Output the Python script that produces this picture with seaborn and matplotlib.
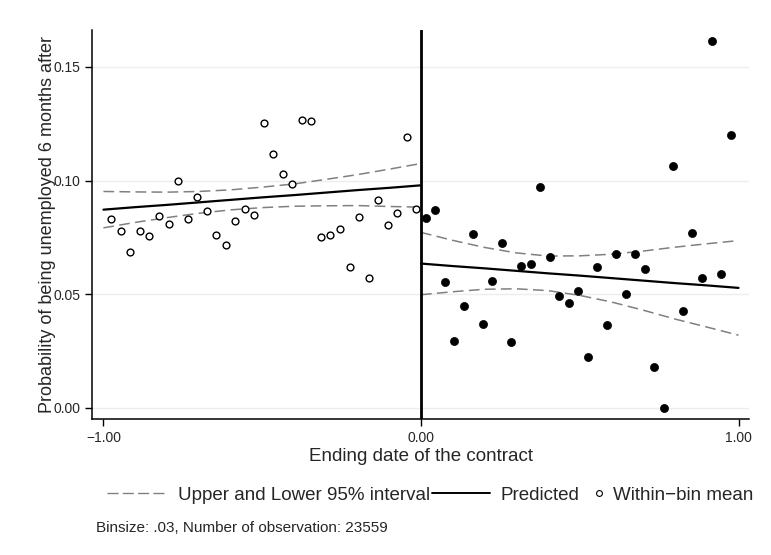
import numpy as np
import pandas as pd
import matplotlib
matplotlib.use("Agg")
import matplotlib.pyplot as plt
import seaborn as sns
from matplotlib.lines import Line2D

# ---- data ----
left_x = [-0.975, -0.945, -0.915, -0.885, -0.855, -0.825, -0.795, -0.765, -0.735, -0.705, -0.675,
          -0.645, -0.615, -0.585, -0.555, -0.525, -0.495, -0.465, -0.435, -0.405, -0.375, -0.345,
          -0.315, -0.285, -0.255, -0.225, -0.195, -0.165, -0.135, -0.105, -0.075, -0.045, -0.015]
left_y = [0.0829, 0.0779, 0.0685, 0.0779, 0.0756, 0.0845, 0.0807, 0.0998, 0.0832, 0.0929, 0.0868,
          0.0759, 0.0718, 0.0822, 0.0873, 0.0850, 0.1253, 0.1116, 0.1028, 0.0987, 0.1267, 0.1263,
          0.0753, 0.0759, 0.0787, 0.0621, 0.0839, 0.0573, 0.0916, 0.0804, 0.0859, 0.1190, 0.0875]

right_x = [0.015, 0.045, 0.075, 0.105, 0.135, 0.165, 0.195, 0.225, 0.255, 0.285, 0.315,
           0.345, 0.375, 0.405, 0.435, 0.465, 0.495, 0.525, 0.555, 0.585, 0.615, 0.645,
           0.675, 0.705, 0.735, 0.765, 0.795, 0.825, 0.855, 0.885, 0.915, 0.945, 0.975]
right_y = [0.0837, 0.0869, 0.0553, 0.0296, 0.0447, 0.0763, 0.0371, 0.0560, 0.0726, 0.0291, 0.0623,
           0.0632, 0.0970, 0.0666, 0.0494, 0.0462, 0.0513, 0.0225, 0.0619, 0.0365, 0.0675, 0.0500,
           0.0676, 0.0610, 0.0178, 0.0000, 0.1065, 0.0426, 0.0770, 0.0572, 0.1614, 0.0588, 0.1201]

fit_left_x = [-1.0, -0.9, -0.8, -0.7, -0.6, -0.5, -0.4, -0.3, -0.2, -0.1, 0.0]
pred_left = [0.0872, 0.0883, 0.0893, 0.0904, 0.0915, 0.0926, 0.0936, 0.0947, 0.0958, 0.0968, 0.0979]
upper_left = [0.0952, 0.0950, 0.0949, 0.0952, 0.0959, 0.0971, 0.0985, 0.1005, 0.1026, 0.1050, 0.1075]
lower_left = [0.0792, 0.0816, 0.0837, 0.0856, 0.0871, 0.0881, 0.0887, 0.0889, 0.0890, 0.0886, 0.0883]

fit_right_x = [0.0, 0.1, 0.2, 0.3, 0.4, 0.5, 0.6, 0.7, 0.8, 0.9, 1.0]
pred_right = [0.0635, 0.0624, 0.0614, 0.0603, 0.0592, 0.0582, 0.0571, 0.0560, 0.0549, 0.0539, 0.0528]
upper_right = [0.0772, 0.0737, 0.0706, 0.0682, 0.0668, 0.0669, 0.0676, 0.0690, 0.0707, 0.0722, 0.0736]
lower_right = [0.0498, 0.0511, 0.0522, 0.0524, 0.0516, 0.0495, 0.0466, 0.0430, 0.0391, 0.0356, 0.0320]

x_ticks = [-1.0, 0.0, 1.0]
x_tick_labels = ["\u22121.00", "0.00", "1.00"]
y_ticks = [0.0, 0.05, 0.10, 0.15]
y_tick_labels = ["0.00", "0.05", "0.10", "0.15"]

legend_labels = ["Upper and Lower 95% interval", "Predicted", "Within\u2212bin mean"]
note_text = "Binsize: .03, Number of observation: 23559"

# ---- styling ----
sns.set_theme(style="white")
plt.rcParams['font.family'] = ['Liberation Sans', 'DejaVu Sans']

W, H = 771, 555
fig = plt.figure(figsize=(W / 100, H / 100), dpi=100)
ax = fig.add_axes([92.3 / W, 1 - 419 / H, (749.3 - 92.3) / W, (419 - 30) / H])

GRID = "#e6eff1"
for yv in y_ticks:
    ax.axhline(yv, color=GRID, lw=1.0, zorder=0)

DASH_COLOR = "#808080"
dash_kw = dict(color=DASH_COLOR, lw=1.1, dashes=(7, 3.5), zorder=2)
df_l = pd.DataFrame({"x": fit_left_x, "pred": pred_left, "up": upper_left, "lo": lower_left})
df_r = pd.DataFrame({"x": fit_right_x, "pred": pred_right, "up": upper_right, "lo": lower_right})
for d in (df_l, df_r):
    sns.lineplot(data=d, x="x", y="up", ax=ax, **dash_kw)
    sns.lineplot(data=d, x="x", y="lo", ax=ax, **dash_kw)
    sns.lineplot(data=d, x="x", y="pred", ax=ax, color="black", lw=1.6, zorder=3)

ax.axvline(0, color="black", lw=2.0, zorder=4)

pts_l = pd.DataFrame({"x": left_x, "y": left_y})
pts_r = pd.DataFrame({"x": right_x, "y": right_y})
sns.scatterplot(data=pts_l, x="x", y="y", ax=ax, marker="o", s=24,
                facecolor="white", edgecolor="black", linewidth=1.0, zorder=5)
sns.scatterplot(data=pts_r, x="x", y="y", ax=ax, marker="o", s=34,
                color="black", edgecolor="black", linewidth=0.5, zorder=5)

ax.set_xlim(-1.035, 1.034)
ax.set_ylim(-0.00485, 0.1662)
ax.set_xticks(x_ticks)
ax.set_xticklabels(x_tick_labels, fontsize=10)
ax.set_yticks(y_ticks)
ax.set_yticklabels(y_tick_labels, fontsize=10)
ax.tick_params(axis="both", direction="out", length=5, width=1, color="black", pad=3.5,
               left=True, bottom=True)

for s in ("top", "right"):
    ax.spines[s].set_visible(False)
for s in ("left", "bottom"):
    ax.spines[s].set_color("black")
    ax.spines[s].set_linewidth(1.1)

ax.set_xlabel("Ending date of the contract", fontsize=13.5, labelpad=2.5)
ax.set_ylabel("Probability of being unemployed 6 months after", fontsize=13.0)
ax.yaxis.set_label_coords(-0.055, 0.5)

FS = 13.5
ly = 1 - 495 / H
leg_common = dict(loc="center left", frameon=False, fontsize=FS, borderpad=0,
                  borderaxespad=0)
fig.legend([Line2D([], [], color=DASH_COLOR, lw=1.0, dashes=(8, 3))], [legend_labels[0]],
           bbox_to_anchor=(106.7 / W, ly), handlelength=3.2, handletextpad=0.62, **leg_common)
fig.legend([Line2D([], [], color="black", lw=1.4)], [legend_labels[1]],
           bbox_to_anchor=(431.7 / W, ly), handlelength=3.1, handletextpad=0.59, **leg_common)
fig.legend([Line2D([], [], color="black", marker="o", markersize=4.2, markerfacecolor="white",
                   markeredgewidth=0.8, linestyle="None")], [legend_labels[2]],
           bbox_to_anchor=(593.5 / W, ly), handlelength=0.6, handletextpad=0.45, **leg_common)

fig.text(96 / W, 1 - 528 / H, note_text, fontsize=11, ha="left", va="center")

fig.savefig("out.png", dpi=100)
